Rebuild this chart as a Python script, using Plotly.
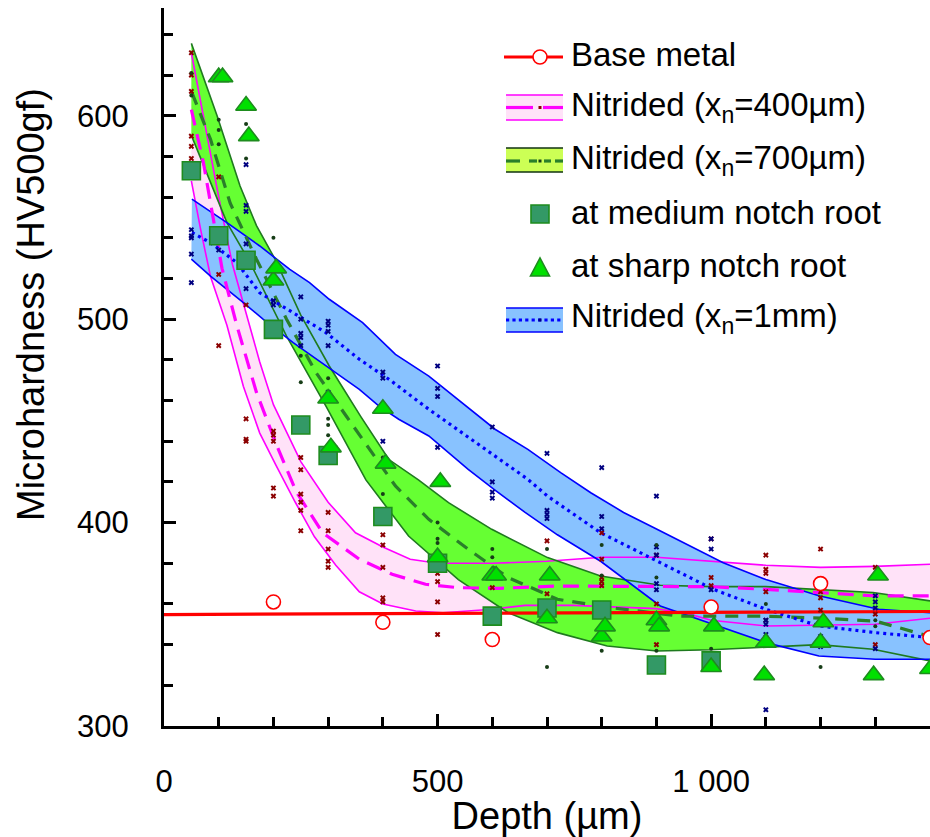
import plotly.graph_objects as go

# ---------------- data ----------------
# Base metal
base_line_d = [0, 1400]
base_line_hv = [354.8, 356.3]
base_pts_d = [200, 400, 600, 1000, 1200, 1400]
base_pts_hv = [361, 351, 342.5, 358.5, 370, 343.5]

# Nitrided x_n = 400 um (band + mean)
n400_up_d = [50, 75, 100, 125, 150, 175, 200, 250, 300, 350, 400, 450, 500, 600, 700, 800, 900, 1000, 1100, 1200, 1300, 1400]
n400_up_hv = [631, 596, 560, 527, 503, 479, 458, 430, 410, 395, 388, 382, 380, 380, 381, 383, 383, 381, 379, 378, 378.5, 379.5]
n400_lo_d = [50, 67, 85, 115, 145, 175, 205, 240, 275, 314, 357, 400, 460, 510, 600, 660, 750, 840, 900, 960, 1000, 1100, 1200, 1300, 1400]
n400_lo_hv = [568, 544, 521, 497, 467, 444, 428, 410, 393, 379, 366, 360, 356.5, 355.7, 357.4, 359.3, 359.3, 358.5, 357.7, 355, 352, 349.2, 349.5, 350, 353]
n400_mean_d = [50, 72, 91, 106, 133, 169, 206, 242, 290, 357, 417, 478, 538, 611, 719, 901, 1000, 1100, 1197, 1300, 1400]
n400_mean_hv = [603, 577, 548, 525, 497, 464, 438, 415, 395, 382, 374.6, 369.7, 368, 367.7, 368.8, 368.8, 368.5, 367.2, 365.6, 364, 364]

# Nitrided x_n = 700 um
n700_up_d = [50, 97, 139, 169, 203, 250, 302, 360, 411, 465, 520, 599, 701, 798, 907, 1000, 1100, 1197, 1296, 1400]
n700_up_hv = [635.6, 600, 565.5, 546, 529.5, 502, 477, 452, 431, 421, 409.8, 396.7, 382.8, 373.7, 369.2, 368.5, 368.5, 367, 365.6, 361.5]
n700_lo_d = [50, 115, 157, 224, 296, 369, 447, 538, 629, 719, 810, 901, 1000, 1088, 1197, 1296, 1400]
n700_lo_hv = [590.4, 547.5, 528, 491.7, 457.3, 421, 393.4, 372, 355.7, 345.9, 339.3, 336.9, 337.5, 338.5, 340, 337.7, 332]
n700_mean_d = [51, 85, 121, 169, 224, 278, 333, 381, 423, 484, 556, 629, 719, 816, 943, 1100, 1200, 1300, 1400]
n700_mean_hv = [611.4, 588.4, 557, 529.5, 500, 473.7, 452.4, 434.4, 418, 401.6, 386.9, 373, 362.3, 358.2, 354, 354, 353, 351.6, 344]

# Nitrided x_n = 1 mm
n1mm_up_d = [51, 115, 175, 230, 266, 302, 363, 423, 484, 544, 605, 665, 725, 780, 840, 901, 961, 1022, 1100, 1197, 1306, 1400]
n1mm_up_hv = [559, 547.5, 536, 524.5, 518, 509.8, 498.3, 482.7, 472, 459, 445.9, 436, 424.6, 414.7, 405, 396.7, 388.5, 380.3, 372, 364, 357.4, 355.7]
n1mm_lo_d = [50, 85, 145, 181, 236, 296, 357, 393, 429, 484, 556, 605, 660, 719, 798, 907, 1004, 1100, 1197, 1300, 1400]
n1mm_lo_hv = [529.5, 521.2, 508.2, 500, 488.5, 477, 465.5, 457.3, 450.8, 442.6, 426.2, 416, 405, 394, 381, 359, 350, 341, 334.4, 332.8, 332.8]
n1mm_mean_d = [51, 85, 133, 175, 236, 296, 357, 411, 484, 544, 605, 665, 701, 798, 907, 1004, 1100, 1197, 1300, 1400]
n1mm_mean_hv = [542.6, 537.6, 527.8, 513, 503.2, 493.4, 480.3, 470.5, 455.7, 444.2, 432.7, 421.3, 413, 395, 380.3, 367.2, 357.4, 349.2, 345.9, 343.5]

# Notch-root measurements
medium_d = [50, 100, 150, 200, 250, 300, 400, 500, 600, 700, 800, 900, 1000]
medium_hv = [573, 541, 529, 495, 448, 433, 403, 380, 354, 358, 357, 330, 332]
sharp_d = [100, 107, 150, 155, 200, 205, 300, 305, 400, 405, 505, 500, 600, 607, 705, 700, 800, 806,
           900, 905, 1005, 1000, 1100, 1097, 1200, 1205, 1305, 1297, 1400]
sharp_hv = [619, 619, 605, 590, 519, 525, 461, 437, 456, 429, 420, 383, 374, 374, 374, 353, 344, 349,
            352, 349, 349, 329, 341, 325, 341, 351, 374, 325, 328]

# Individual measurements (small markers)
pts400_d = [50]*6 + [100]*3 + [150]*4 + [200]*5 + [250]*6 + [300]*5 + [400]*5 + [500]*4 + [600]*2 + \
           [700]*3 + [800]*6 + [900]*3 + [1000]*3 + [1100]*5 + [1200]*4 + [1300]*3
pts400_hv = [631, 620, 612, 590, 585, 579, 570, 522, 487, 507, 451, 441, 440, 445, 443, 440, 417, 413,
             432, 426, 414, 410, 406, 396, 405, 396, 387, 381, 378, 394, 389, 378, 363, 361,
             375, 371, 361, 345, 368, 344, 391, 374, 365, 395, 382, 373, 371, 369, 360,
             384, 360, 340, 392, 373, 369, 384, 377, 375, 366, 352, 387, 366, 363, 357, 378, 355, 340]
pts1mm_d = [50]*5 + [100]*2 + [150]*5 + [200]*3 + [250]*5 + [300]*5 + [400]*4 + [500]*4 + [600]*4 + \
           [700]*4 + [800]*3 + [900]*5 + [1000]*4 + [1100]*4 + [1200]*2 + [1300]*4
pts1mm_hv = [544, 541, 540, 532, 518, 539, 534, 576, 556, 553, 537, 515, 509, 507, 496,
             511, 500, 493, 491, 487, 499, 497, 494, 487, 464, 474, 471, 455, 440,
             477, 466, 462, 437, 447, 420, 415, 412, 434, 406, 404, 402, 427, 403, 397,
             413, 388, 384, 370, 367, 392, 387, 367, 349, 352, 350, 345, 308, 344, 339,
             364, 361, 358, 338]
pts700_d = [50]*2 + [100]*3 + [150]*2 + [200] + [250]*2 + [300]*4 + [400]*2 + [500]*3 + [600]*3 + \
           [700]*2 + [800]*3 + [900]*3 + [1000]*2 + [1100]*2 + [1200] + [1300]*2
pts700_hv = [621, 610, 598, 593, 586, 596, 579, 540, 482, 469, 471, 451, 448, 443, 432, 414,
             400, 392, 390, 387, 383, 345, 387, 329, 389, 374, 337, 389, 373, 337, 360, 338,
             360, 341, 329, 352, 349]

# Legend labels
legend_labels = ["Base metal", "Nitrided (x<sub>n</sub>=400µm)", "Nitrided (x<sub>n</sub>=700µm)",
                 "at medium notch root", "at sharp notch root", "Nitrided (x<sub>n</sub>=1mm)"]
x_title = "Depth (µm)"
y_title = "Microhardness (HV500gf)"

# ---------------- styling ----------------
FONT = "Arial, Liberation Sans, Helvetica, sans-serif"
PINK_FILL = "#ffe2f8"
GREEN_FILL = "#66ff33"
BLUE_FILL = "#88c2ff"
MAGENTA = "#ff00ff"
DKGREEN = "#1f7a1f"
MEANGREEN = "#2a7f2a"
BLUE = "#0000ff"

fig = go.Figure()


def band(up_d, up_hv, lo_d, lo_hv, fill):
    xs = list(up_d) + list(reversed(lo_d))
    ys = list(up_hv) + list(reversed(lo_hv))
    fig.add_trace(go.Scatter(x=xs, y=ys, fill="toself", fillcolor=fill, mode="lines",
                             line=dict(width=0), hoverinfo="skip", showlegend=False))


band(n400_up_d, n400_up_hv, n400_lo_d, n400_lo_hv, PINK_FILL)
band(n700_up_d, n700_up_hv, n700_lo_d, n700_lo_hv, GREEN_FILL)
band(n1mm_up_d, n1mm_up_hv, n1mm_lo_d, n1mm_lo_hv, BLUE_FILL)


def line(xs, ys, color, width, dash="solid"):
    fig.add_trace(go.Scatter(x=xs, y=ys, mode="lines", line=dict(color=color, width=width, dash=dash),
                             showlegend=False))


line(n400_up_d, n400_up_hv, MAGENTA, 1.6)
line(n400_lo_d, n400_lo_hv, MAGENTA, 1.6)
line(n700_up_d, n700_up_hv, DKGREEN, 1.6)
line(n700_lo_d, n700_lo_hv, DKGREEN, 1.6)
line(n1mm_up_d, n1mm_up_hv, BLUE, 1.6)
line(n1mm_lo_d, n1mm_lo_hv, BLUE, 1.6)
line(n400_mean_d, n400_mean_hv, MAGENTA, 3.2, "16px,9px")
line(n700_mean_d, n700_mean_hv, MEANGREEN, 3.2, "13px,9px")
line(n1mm_mean_d, n1mm_mean_hv, BLUE, 3.2, "3px,4px")
line(base_line_d, base_line_hv, "#ff0000", 3.2)

fig.add_trace(go.Scatter(x=pts400_d, y=pts400_hv, mode="markers",
                         marker=dict(symbol="x", size=5, color="#8b0000", line=dict(width=0)), showlegend=False))
fig.add_trace(go.Scatter(x=pts1mm_d, y=pts1mm_hv, mode="markers",
                         marker=dict(symbol="x", size=5, color="#000080", line=dict(width=0)), showlegend=False))
fig.add_trace(go.Scatter(x=pts700_d, y=pts700_hv, mode="markers",
                         marker=dict(symbol="circle", size=4, color="#173d17"), showlegend=False))
fig.add_trace(go.Scatter(x=base_pts_d, y=base_pts_hv, mode="markers", cliponaxis=False,
                         marker=dict(symbol="circle", size=14, color="white", line=dict(color="#ff0000", width=1.6)),
                         showlegend=False))
fig.add_trace(go.Scatter(x=medium_d, y=medium_hv, mode="markers",
                         marker=dict(symbol="square", size=18, color="#339966", line=dict(color="#1e8c1e", width=1.6)),
                         showlegend=False))
fig.add_trace(go.Scatter(x=sharp_d, y=sharp_hv, mode="markers", cliponaxis=False,
                         marker=dict(symbol="triangle-up", size=18, color="#00e000", line=dict(color="#1e8c1e", width=1.6)),
                         showlegend=False))

# ---------------- layout / custom legend ----------------
L, R, T, B = 164, 930, 8, 726
W, H = 930, 837


def PX(px):
    return (px - L) / (R - L)


def PY(py):
    return (B - py) / (B - T)


shapes = []


def seg(x0, x1, y, color, width, dash="solid"):
    shapes.append(dict(type="line", xref="paper", yref="paper", x0=PX(x0), x1=PX(x1), y0=PY(y), y1=PY(y),
                       line=dict(color=color, width=width, dash=dash)))


def rect(x0, x1, y0, y1, fill, lcolor=None, lw=0):
    shapes.append(dict(type="rect", xref="paper", yref="paper", x0=PX(x0), x1=PX(x1), y0=PY(y1), y1=PY(y0),
                       fillcolor=fill, line=dict(color=lcolor or fill, width=lw)))


lx0, lx1, lmid = 506, 563, 540
# row 1: base metal
seg(504, 563, 57, "#ff0000", 3)
shapes.append(dict(type="circle", xref="paper", yref="paper", x0=PX(lmid - 7), x1=PX(lmid + 7),
                   y0=PY(64), y1=PY(50), fillcolor="white", line=dict(color="#ff0000", width=1.6)))
# row 2: 400 um
rect(lx0, lx1, 95, 120, PINK_FILL)
seg(lx0, lx1, 95, MAGENTA, 1.6)
seg(lx0, lx1, 120, MAGENTA, 1.6)
seg(lx0, 533, 107.5, MAGENTA, 3.2)
seg(543, lx1, 107.5, MAGENTA, 3.2)
rect(lmid - 1.5, lmid + 1.5, 106, 109, "#8b0000")
# row 3: 700 um
rect(lx0, lx1, 148, 172, "#ccff55")
seg(lx0, lx1, 148, "#113311", 1.6)
seg(lx0, lx1, 172, "#113311", 1.6)
seg(lx0, 520, 161, MEANGREEN, 3.2)
seg(529, 537, 161, MEANGREEN, 3.2)
seg(544, 551, 161, MEANGREEN, 3.2)
seg(555, lx1, 161, MEANGREEN, 3.2)
rect(lmid - 1.5, lmid + 1.5, 159.5, 162.5, "#173d17")
# row 4: square
rect(lmid - 9, lmid + 9, 205, 223, "#339966", "#1e8c1e", 1.6)
# row 5: triangle
shapes.append(dict(type="path", xref="paper", yref="paper",
                   path="M {a},{b} L {c},{b} L {d},{e} Z".format(a=PX(lmid - 9.5), c=PX(lmid + 9.5), b=PY(276),
                                                                 d=PX(lmid), e=PY(258)),
                   fillcolor="#00e000", line=dict(color="#1e8c1e", width=1.6)))
# row 6: 1 mm
rect(lx0, lx1, 308, 332, BLUE_FILL)
seg(lx0, lx1, 308, BLUE, 1.6)
seg(lx0, lx1, 332, BLUE, 1.6)
seg(lx0, lx1, 320, BLUE, 3.2, "dot")
rect(lmid - 1.5, lmid + 1.5, 318.5, 321.5, "#000080")

row_y = [54, 107, 160, 212, 265, 318]
annotations = []
for lab, yy in zip(legend_labels, row_y):
    annotations.append(dict(text=lab, xref="paper", yref="paper", x=PX(569), y=PY(yy), xanchor="left",
                            yanchor="middle", showarrow=False, font=dict(family=FONT, size=33, color="black")))
# y-axis title (placed like the reference, above the axis centre)
annotations.append(dict(text=y_title, xref="paper", yref="paper", x=PX(31), y=PY(305), xanchor="center",
                        yanchor="middle", textangle=-90, showarrow=False,
                        font=dict(family=FONT, size=38, color="black")))

fig.update_layout(
    width=W, height=H,
    margin=dict(l=L, r=W - R, t=T, b=H - B),
    paper_bgcolor="white", plot_bgcolor="white",
    separators=". ",
    font=dict(family=FONT, color="black"),
    shapes=shapes, annotations=annotations,
    showlegend=False,
    xaxis=dict(range=[0, 1400], showgrid=False, zeroline=False, showline=True, linecolor="black", linewidth=3,
               ticks="inside", ticklen=12, tickwidth=3, tickcolor="black", dtick=500, tick0=0,
               separatethousands=True, ticklabelstandoff=26,
               minor=dict(dtick=100, ticks="inside", ticklen=9, tickwidth=3, tickcolor="black"),
               tickfont=dict(family=FONT, size=31),
               title=dict(text=x_title, font=dict(family=FONT, size=38), standoff=2)),
    yaxis=dict(range=[300, 653], showgrid=False, zeroline=False, showline=True, linecolor="black", linewidth=3,
               ticks="inside", ticklen=12, tickwidth=3, tickcolor="black", dtick=100, tick0=0,
               ticklabelstandoff=26,
               minor=dict(dtick=20, ticks="inside", ticklen=9, tickwidth=3, tickcolor="black"),
               tickfont=dict(family=FONT, size=31)),
)

fig.write_html("out.html")
